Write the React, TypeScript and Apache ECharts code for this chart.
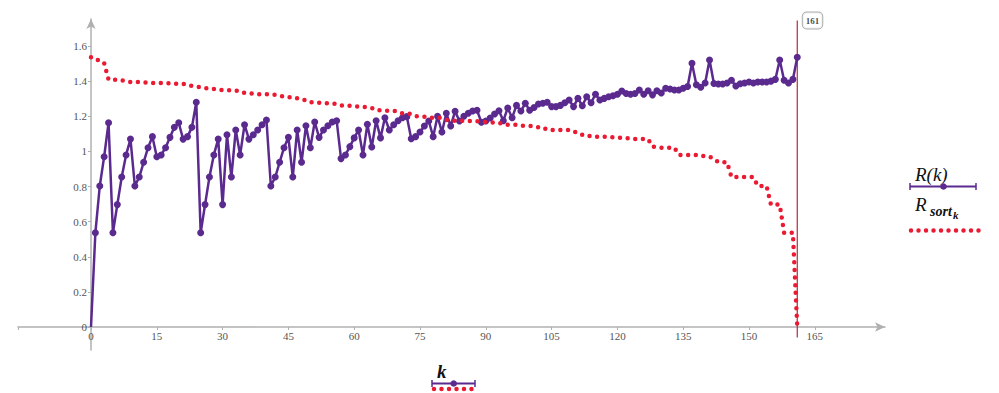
import React, { useEffect, useRef } from "react";
import * as echarts from "echarts";

// R(k), k = 0..161
const rValues = [
  0, 0.537, 0.803, 0.97, 1.163, 0.537, 0.697, 0.854, 0.98, 1.07,
  0.803, 0.854, 0.938, 1.021, 1.084, 0.97, 0.98, 1.021, 1.08, 1.137,
  1.163, 1.07, 1.084, 1.137, 1.28, 0.537, 0.697, 0.854, 0.98, 1.07,
  0.697, 1.095, 0.854, 1.122, 0.98, 1.152, 1.07, 1.095, 1.122, 1.152,
  1.179, 0.803, 0.854, 0.938, 1.021, 1.08, 0.854, 1.122, 0.938, 1.146,
  1.021, 1.167, 1.08, 1.122, 1.146, 1.167, 1.175, 0.959, 0.98, 1.027,
  1.077, 1.122, 0.98, 1.154, 1.025, 1.175, 1.077, 1.192, 1.122, 1.152,
  1.175, 1.192, 1.198, 1.072, 1.084, 1.11, 1.145, 1.173, 1.084, 1.2,
  1.11, 1.217, 1.145, 1.228, 1.173, 1.2, 1.217, 1.23, 1.234, 1.166,
  1.173, 1.19, 1.213, 1.232, 1.175, 1.247, 1.192, 1.262, 1.23, 1.274,
  1.234, 1.25, 1.27, 1.274, 1.28, 1.255, 1.255, 1.262, 1.277, 1.293,
  1.255, 1.302, 1.26, 1.311, 1.277, 1.325, 1.293, 1.302, 1.311, 1.317,
  1.325, 1.344, 1.33, 1.325, 1.33, 1.35, 1.325, 1.345, 1.322, 1.345,
  1.333, 1.36, 1.355, 1.35, 1.35, 1.36, 1.37, 1.502, 1.38, 1.365,
  1.39, 1.52, 1.387, 1.384, 1.384, 1.39, 1.405, 1.372, 1.385, 1.39,
  1.395, 1.39, 1.395, 1.395, 1.395, 1.4, 1.41, 1.52, 1.405, 1.39,
  1.41, 1.536,
];

// R_sort(k) (descending)
const rSortValues = [
  1.536, 1.52, 1.52, 1.502, 1.41, 1.41, 1.405, 1.405, 1.4, 1.395,
  1.395, 1.395, 1.395, 1.39, 1.39, 1.39, 1.39, 1.39, 1.387, 1.385,
  1.384, 1.384, 1.38, 1.372, 1.37, 1.365, 1.36, 1.36, 1.355, 1.35,
  1.35, 1.35, 1.345, 1.345, 1.344, 1.333, 1.33, 1.33, 1.325, 1.325,
  1.325, 1.325, 1.322, 1.317, 1.311, 1.311, 1.302, 1.302, 1.293, 1.293,
  1.28, 1.28, 1.277, 1.277, 1.274, 1.274, 1.27, 1.262, 1.262, 1.26,
  1.255, 1.255, 1.255, 1.25, 1.247, 1.234, 1.234, 1.232, 1.23, 1.23,
  1.228, 1.217, 1.217, 1.213, 1.2, 1.2, 1.198, 1.192, 1.192, 1.192,
  1.19, 1.179, 1.175, 1.175, 1.175, 1.175, 1.173, 1.173, 1.173, 1.167,
  1.167, 1.166, 1.163, 1.163, 1.154, 1.152, 1.152, 1.152, 1.146, 1.146,
  1.145, 1.145, 1.137, 1.137, 1.122, 1.122, 1.122, 1.122, 1.122, 1.122,
  1.11, 1.11, 1.095, 1.095, 1.084, 1.084, 1.084, 1.084, 1.08, 1.08,
  1.08, 1.077, 1.077, 1.072, 1.07, 1.07, 1.07, 1.07, 1.027, 1.025,
  1.021, 1.021, 1.021, 1.021, 0.98, 0.98, 0.98, 0.98, 0.98, 0.98,
  0.97, 0.97, 0.959, 0.938, 0.938, 0.938, 0.854, 0.854, 0.854, 0.854,
  0.854, 0.854, 0.803, 0.803, 0.803, 0.697, 0.697, 0.697, 0.537, 0.537,
  0.537, 0,
];

const xTickValues = [0, 15, 30, 45, 60, 75, 90, 105, 120, 135, 150, 165];
const yTickValues = [0, 0.2, 0.4, 0.6, 0.8, 1, 1.2, 1.4, 1.6];
const markerK = 161;
const markerLabel = "161";

const PURPLE = "#5b2a8f";
const RED = "#ea1a32";
const VLINE = "#b8283c";
const AXIS = "#b0b0b0";
const SERIF = "'Liberation Serif', 'DejaVu Serif', serif";

// plot frame (px) and axis ranges
const GRID = { left: 18, right: 114, top: 19, bottom: 43 };
const X_MIN = -16.64;
const X_MAX = 181;
const Y_MIN = -0.131;
const Y_MAX = 1.754;

export default function App() {
  const ref = useRef<HTMLDivElement>(null);

  useEffect(() => {
    if (!ref.current) return;
    const chart = echarts.init(ref.current, undefined, { renderer: "svg" });

    const rData = rValues.map((v, k) => [k, v]);
    const sData = rSortValues.map((v, k) => [k, v]);

    const plotW = 999 - GRID.left - GRID.right;
    const plotH = 393 - GRID.top - GRID.bottom;
    // shift axes so they cross at (0, 0)
    const yAxisOffset = -((0 - X_MIN) / (X_MAX - X_MIN)) * plotW;
    const xAxisOffset = -((0 - Y_MIN) / (Y_MAX - Y_MIN)) * plotH;

    const axisLabelStyle = {
      fontFamily: SERIF,
      fontSize: 11,
      color: "#555",
    };

    const option: any = {
      animation: false,
      grid: GRID,
      xAxis: {
        type: "value",
        min: X_MIN,
        max: X_MAX,
        position: "bottom",
        offset: xAxisOffset,
        axisLine: {
          onZero: false,
          symbol: ["none", "arrow"],
          symbolSize: [7, 10],
          lineStyle: { color: AXIS, width: 1.5 },
        },
        axisTick: {
          show: true,
          customValues: [X_MIN, ...xTickValues],
          length: 3,
          lineStyle: { color: AXIS, width: 1 },
        },
        axisLabel: { ...axisLabelStyle, customValues: xTickValues, margin: 4 },
        splitLine: { show: false },
      },
      yAxis: {
        type: "value",
        min: Y_MIN,
        max: Y_MAX,
        position: "left",
        offset: yAxisOffset,
        axisLine: {
          onZero: false,
          symbol: ["none", "arrow"],
          symbolSize: [7, 10],
          lineStyle: { color: AXIS, width: 1.5 },
        },
        axisTick: {
          show: true,
          customValues: yTickValues,
          length: 3,
          lineStyle: { color: AXIS, width: 1 },
        },
        axisLabel: { ...axisLabelStyle, customValues: yTickValues, margin: 4 },
        splitLine: { show: false },
      },
      series: [
        {
          type: "line",
          name: "R(k)",
          data: rData,
          symbol: "circle",
          symbolSize: (_v: any, p: any) => (p.dataIndex === 0 ? 0 : 7),
          showAllSymbol: true,
          color: PURPLE,
          lineStyle: { color: PURPLE, width: 2.5 },
          itemStyle: { color: PURPLE, borderWidth: 0 },
          z: 3,
        },
        {
          type: "line",
          name: "Rsort",
          data: sData,
          symbol: "none",
          color: RED,
          lineStyle: { color: RED, width: 4.5, type: [0, 7.67], cap: "round" },
          z: 4,
        },
        {
          type: "line",
          data: [
            [markerK, -0.06],
            [markerK, 1.745],
          ],
          symbol: "none",
          color: VLINE,
          lineStyle: { color: VLINE, width: 1.2, opacity: 1 },
          itemStyle: { color: VLINE },
          z: 2,
        },
        {
          type: "scatter",
          data: [[markerK, 1.745]],
          symbolSize: 1,
          itemStyle: { color: "rgba(0,0,0,0)" },
          label: {
            show: true,
            position: "right",
            distance: 5,
            formatter: markerLabel,
            fontFamily: SERIF,
            fontSize: 9,
            fontWeight: "bold",
            color: "#222",
            backgroundColor: "#fff",
            borderColor: "#999",
            borderWidth: 1,
            borderRadius: 4,
            padding: [4, 3, 3, 3],
          },
          z: 5,
        },
      ],
      graphic: [
        // Right legend: R(k)
        {
          type: "text",
          x: 915,
          y: 165,
          style: {
            text: "R(k)",
            fontFamily: SERIF,
            fontStyle: "italic",
            fontSize: 19,
            fill: "#111",
            align: "left",
            verticalAlign: "top",
          },
        },
        { type: "line", shape: { x1: 910, y1: 186.5, x2: 976, y2: 186.5 }, style: { stroke: PURPLE, lineWidth: 2 } },
        { type: "line", shape: { x1: 910, y1: 183, x2: 910, y2: 190 }, style: { stroke: PURPLE, lineWidth: 1.5 } },
        { type: "line", shape: { x1: 976, y1: 183, x2: 976, y2: 190 }, style: { stroke: PURPLE, lineWidth: 1.5 } },
        { type: "circle", shape: { cx: 943.5, cy: 186.5, r: 3.3 }, style: { fill: PURPLE } },
        // Right legend: R_sort_k
        {
          type: "text",
          x: 915,
          y: 195,
          style: { text: "R", fontFamily: SERIF, fontStyle: "italic", fontSize: 19, fill: "#111", verticalAlign: "top" },
        },
        {
          type: "text",
          x: 930,
          y: 204,
          style: { text: "sort", fontFamily: SERIF, fontStyle: "italic", fontWeight: "bold", fontSize: 14, fill: "#111", verticalAlign: "top" },
        },
        {
          type: "text",
          x: 953,
          y: 209,
          style: { text: "k", fontFamily: SERIF, fontStyle: "italic", fontWeight: "bold", fontSize: 11, fill: "#111", verticalAlign: "top" },
        },
        {
          type: "line",
          shape: { x1: 911, y1: 230.5, x2: 979, y2: 230.5 },
          style: { stroke: RED, lineWidth: 4.5, lineDash: [0, 7.5], lineCap: "round" },
        },
        // Bottom legend: k
        {
          type: "text",
          x: 437,
          y: 362,
          style: { text: "k", fontFamily: SERIF, fontStyle: "italic", fontWeight: "bold", fontSize: 19, fill: "#111", verticalAlign: "top" },
        },
        { type: "line", shape: { x1: 432, y1: 383.5, x2: 475, y2: 383.5 }, style: { stroke: PURPLE, lineWidth: 2 } },
        { type: "line", shape: { x1: 432, y1: 380, x2: 432, y2: 387 }, style: { stroke: PURPLE, lineWidth: 1.5 } },
        { type: "line", shape: { x1: 475, y1: 380, x2: 475, y2: 387 }, style: { stroke: PURPLE, lineWidth: 1.5 } },
        { type: "circle", shape: { cx: 453.7, cy: 383.5, r: 3.3 }, style: { fill: PURPLE } },
        {
          type: "line",
          shape: { x1: 434, y1: 389, x2: 474, y2: 389 },
          style: { stroke: RED, lineWidth: 4.5, lineDash: [0, 7.5], lineCap: "round" },
        },
      ],
    };

    chart.setOption(option);
    return () => chart.dispose();
  }, []);

  return (
    <div
      ref={ref}
      style={{ position: "fixed", left: 0, top: 0, width: 999, height: 393, background: "#fff" }}
    />
  );
}
